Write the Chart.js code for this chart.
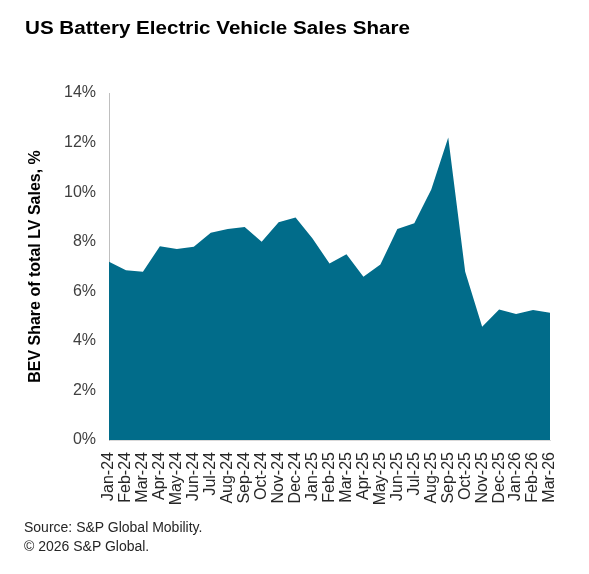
<!DOCTYPE html>
<html>
<head>
<meta charset="utf-8">
<script src="https://cdn.jsdelivr.net/npm/chart.js@4"></script>
<style>
  html, body { margin: 0; padding: 0; background: #fff; }
  body { width: 589px; height: 574px; position: relative; overflow: hidden; font-family: 'Liberation Sans', Arial, sans-serif; }
  #wrap { position: absolute; left: 0; top: 0; width: 589px; height: 574px; }
  .title { position: absolute; left: 25px; top: 19px; font-size: 18px; line-height: 18px; font-weight: bold; color: #000; white-space: nowrap; transform: scaleX(1.145); transform-origin: left top; }
  .note { position: absolute; left: 24px; font-size: 14px; line-height: 14px; color: #262626; white-space: nowrap; }
</style>
</head>
<body>
<div id="wrap"><canvas id="chartBev"></canvas></div>
<div class="title">US Battery Electric Vehicle Sales Share</div>
<div class="note" style="top:520px">Source: S&amp;P Global Mobility.</div>
<div class="note" style="top:539px">© 2026 S&amp;P Global.</div>
<script>
// --- DATA ---
const months = ['Jan-24', 'Feb-24', 'Mar-24', 'Apr-24', 'May-24', 'Jun-24', 'Jul-24', 'Aug-24', 'Sep-24',
    'Oct-24', 'Nov-24', 'Dec-24', 'Jan-25', 'Feb-25', 'Mar-25', 'Apr-25', 'May-25', 'Jun-25', 'Jul-25',
    'Aug-25', 'Sep-25', 'Oct-25', 'Nov-25', 'Dec-25', 'Jan-26', 'Feb-26', 'Mar-26'];
// BEV share of total light vehicle sales, %
const bevShare = [7.19, 6.85, 6.79, 7.82, 7.71, 7.80, 8.36, 8.51, 8.59,
    8.00, 8.79, 8.98, 8.13, 7.12, 7.49, 6.59, 7.08, 8.51, 8.74,
    10.11, 12.20, 6.79, 4.57, 5.27, 5.08, 5.24, 5.13];
const yTicks = [0, 2, 4, 6, 8, 10, 12, 14];

const fontFamily = "'Liberation Sans', Arial, sans-serif";

const ctx = document.getElementById('chartBev').getContext('2d');
new Chart(ctx, {
    type: 'line',
    data: {
        labels: months,
        datasets: [{
            data: bevShare,
            fill: 'origin',
            backgroundColor: '#016c8a',
            borderWidth: 0,
            pointRadius: 0,
            tension: 0
        }]
    },
    options: {
        responsive: true,
        maintainAspectRatio: false,
        animation: false,
        layout: { padding: { top: 93, right: 39, left: 0, bottom: 0 } },
        plugins: {
            legend: { display: false },
            tooltip: { enabled: false }
        },
        scales: {
            x: {
                offset: false,
                grid: { display: false, drawTicks: false },
                border: { display: true, color: '#d9d9d9' },
                ticks: {
                    autoSkip: false,
                    minRotation: 90,
                    maxRotation: 90,
                    padding: 12,
                    color: '#262626',
                    font: { family: fontFamily, size: 16 }
                },
                afterFit: function(scale) { scale.height = 134; }
            },
            y: {
                min: yTicks[0],
                max: yTicks[yTicks.length - 1],
                grid: { display: false, drawTicks: false },
                border: { display: true, color: '#bfbfbf' },
                ticks: {
                    stepSize: 2,
                    padding: 13,
                    color: '#404040',
                    font: { family: fontFamily, size: 16 },
                    callback: function(value) { return value + '%'; }
                },
                title: {
                    display: true,
                    text: 'BEV Share of total LV Sales, %',
                    color: '#000',
                    font: { family: fontFamily, size: 16, weight: 'bold' },
                    padding: { top: 26, bottom: 0 }
                },
                afterFit: function(scale) { scale.width = 109; }
            }
        }
    }
});
</script>
</body>
</html>
